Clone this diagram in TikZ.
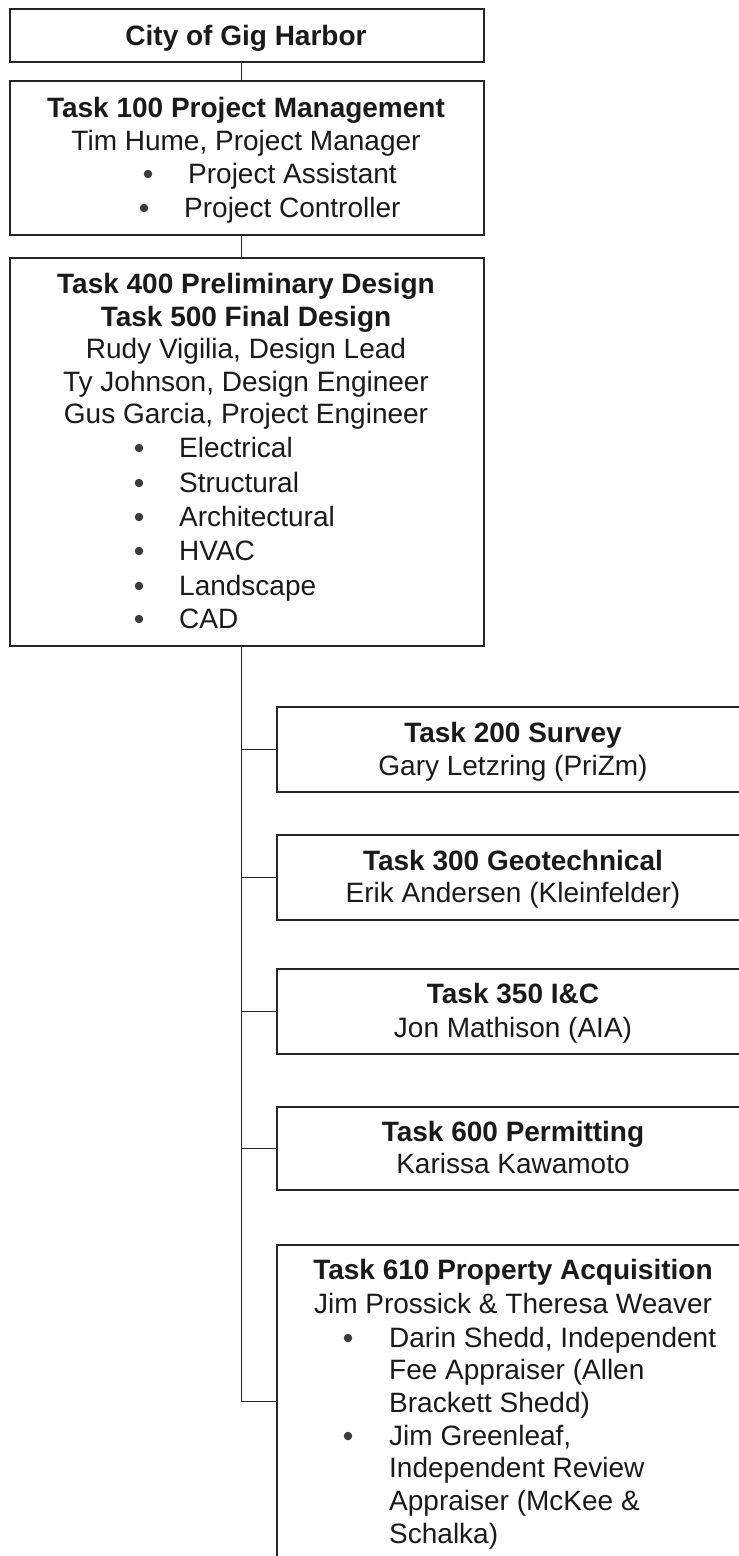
\documentclass[tikz,border=0pt]{standalone}
\usepackage{fontspec}
\setmainfont{Liberation Sans}
\definecolor{linec}{HTML}{262626}
\definecolor{txtc}{HTML}{1A1A1A}
\definecolor{bulc}{HTML}{3C3C3C}
\begin{document}
\begin{tikzpicture}[x=1pt,y=-1pt,
  box/.style={draw=linec, line width=1.6pt, rectangle, inner sep=0pt, anchor=north west},
  conn/.style={draw=linec, line width=1.6pt},
  txt/.style={inner sep=0pt, anchor=base, text=txtc, font=\fontsize{28}{33}\selectfont},
  ttl/.style={txt, font=\fontsize{28}{33}\selectfont\bfseries},
  ltxt/.style={txt, anchor=base west},
  bul/.style={circle, fill=bulc, inner sep=0pt, minimum size=8.5pt, yshift=9pt}]
\useasboundingbox (0,0) rectangle (739,1556);
\clip (0,0) rectangle (739,1556);
\fill[white] (0,0) rectangle (739,1556);
\coordinate (tx) at (241.5,0);

% boxes
\node[box, minimum width=474pt, minimum height=53pt] (b1) at (9,8) {};
\node[box, minimum width=474pt, minimum height=154pt] (b2) at (9,80) {};
\node[box, minimum width=474pt, minimum height=388pt] (b3) at (9,257) {};
\node[box, minimum width=474pt, minimum height=85pt] (b200) at (276,706) {};
\node[box, minimum width=474pt, minimum height=85pt] (b300) at (276,834) {};
\node[box, minimum width=474pt, minimum height=85pt] (b350) at (276,968) {};
\node[box, minimum width=474pt, minimum height=83pt] (b600) at (276,1106) {};
\node[box, minimum width=474pt, minimum height=313pt] (b610) at (276,1244) {};

% connectors
\draw[conn] (b1.south -| tx) -- (b2.north -| tx);
\draw[conn] (b2.south -| tx) -- (b3.north -| tx);
\draw[conn] (b3.south -| tx) -- (tx |- b610.west) -- (b610.west);
\draw[conn] (tx |- b200.west) -- (b200.west);
\draw[conn] (tx |- b300.west) -- (b300.west);
\draw[conn] (tx |- b350.west) -- (b350.west);
\draw[conn] (tx |- b600.west) -- (b600.west);

% box 1
\node[ttl] (t1) at (246,45) {City of Gig Harbor};

% box 2
\node[ttl] (t2a) at (246,117) {Task 100 Project Management};
\node[txt] (t2b) at (246,150) {Tim Hume, Project Manager};
\node[bul] (t2c) at (148,183) {};
\node[ltxt] (t2d) at (188,183) {Project Assistant};
\node[bul] (t2e) at (144,217) {};
\node[ltxt] (t2f) at (184,217) {Project Controller};

% box 3
\node[ttl] (t3a) at (246,293) {Task 400 Preliminary Design};
\node[ttl] (t3b) at (246,326) {Task 500 Final Design};
\node[txt] (t3c) at (246,358) {Rudy Vigilia, Design Lead};
\node[txt] (t3d) at (246,391) {Ty Johnson, Design Engineer};
\node[txt] (t3e) at (246,423) {Gus Garcia, Project Engineer};
\node[bul] (t3f1) at (139,457) {};
\node[ltxt] (t3f2) at (179,457) {Electrical};
\node[bul] (t3g1) at (139,492) {};
\node[ltxt] (t3g2) at (179,492) {Structural};
\node[bul] (t3h1) at (139,526) {};
\node[ltxt] (t3h2) at (179,526) {Architectural};
\node[bul] (t3i1) at (139,560) {};
\node[ltxt] (t3i2) at (179,560) {HVAC};
\node[bul] (t3j1) at (139,595) {};
\node[ltxt] (t3j2) at (179,595) {Landscape};
\node[bul] (t3k1) at (139,628) {};
\node[ltxt] (t3k2) at (179,628) {CAD};

% right boxes
\node[ttl] (t4a) at (513,742) {Task 200 Survey};
\node[txt] (t4b) at (513,775) {Gary Letzring (PriZm)};
\node[ttl] (t5a) at (513,870) {Task 300 Geotechnical};
\node[txt] (t5b) at (513,902) {Erik Andersen (Kleinfelder)};
\node[ttl] (t6a) at (513,1003) {Task 350 I\&C};
\node[txt] (t6b) at (513,1037) {Jon Mathison (AIA)};
\node[ttl] (t7a) at (513,1141) {Task 600 Permitting};
\node[txt] (t7b) at (513,1173) {Karissa Kawamoto};

% box 610
\node[ttl] (t8a) at (513,1279) {Task 610 Property Acquisition};
\node[txt] (t8b) at (513,1313) {Jim Prossick \& Theresa Weaver};
\node[bul] (t8c) at (348,1347) {};
\node[ltxt] (t8d) at (389,1347) {Darin Shedd, Independent};
\node[ltxt] (t8e) at (389,1379) {Fee Appraiser (Allen};
\node[ltxt] (t8f) at (389,1412) {Brackett Shedd)};
\node[bul] (t8g) at (348,1445) {};
\node[ltxt] (t8h) at (389,1445) {Jim Greenleaf,};
\node[ltxt] (t8i) at (389,1477) {Independent Review};
\node[ltxt] (t8j) at (389,1510) {Appraiser (McKee \&};
\node[ltxt] (t8k) at (389,1543) {Schalka)};
\end{tikzpicture}
\end{document}
